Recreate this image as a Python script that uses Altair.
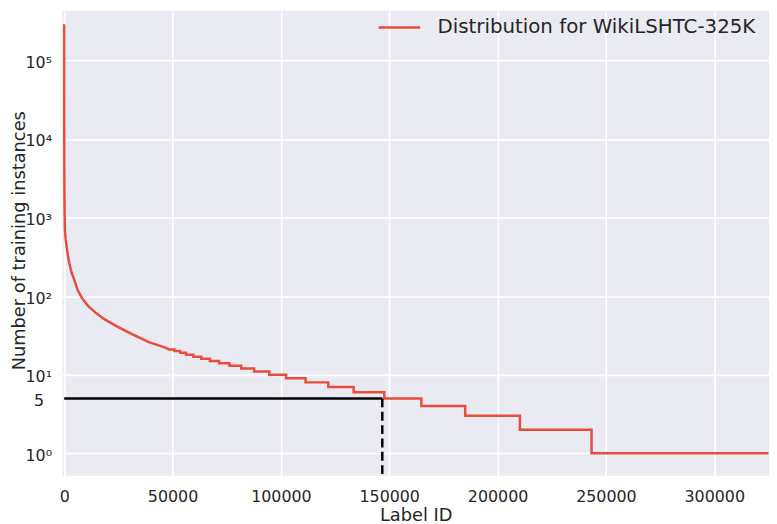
import altair as alt
import pandas as pd

SERIES = "Distribution for WikiLSHTC-325K"

# smooth head of the curve (rank, count)
head_rank = [0, 5, 20, 60, 150, 320, 700, 1140, 1700, 2370, 3400, 4660, 6200,
             8170, 11000, 14570, 18500, 24500, 31800, 39080, 46700, 48400]
head_count = [290000, 60000, 15000, 4000, 1500, 690, 520, 424, 330, 262, 200,
              161, 120, 95, 75, 61.4, 51, 41, 32.5, 26, 22.2, 21]

# step tail: level and the rank where it starts / ends
step_level = [21, 20, 19, 18, 17, 16, 15, 14, 13, 12, 11, 10, 9, 8, 7, 6, 5, 4, 3, 2, 1]
step_start = [48400, 50900, 53520, 56260, 59600, 63250, 67230, 71470, 76220, 81700,
              87640, 94630, 102390, 111390, 121890, 133580, 147740, 164820, 185050,
              210300, 243370]
step_end = step_start[1:] + [325056]

# threshold guide
thr_value = 5
thr_rank = 146800

x_ticks = [0, 50000, 100000, 150000, 200000, 250000, 300000]
y_ticks = [1, 5, 10, 100, 1000, 10000, 100000]
y_tick_labels = ["10\u2070", "5", "10\u00b9", "10\u00b2", "10\u00b3", "10\u2074", "10\u2075"]

X_DOM = [-820, 325260]
Y_DOM = [0.5177, 430100]

rows = []
for r, c in zip(head_rank, head_count):
    rows.append((r, c))
for lv, s, e in zip(step_level, step_start, step_end):
    rows.append((s, lv))
    rows.append((e, lv))
line_df = pd.DataFrame(rows, columns=["rank", "count"])
line_df["order"] = range(len(line_df))
line_df["series"] = SERIES

label_expr = " : ".join(
    f"datum.value == {v} ? '{t}'" for v, t in zip(y_ticks[:-1], y_tick_labels[:-1])
) + f" : '{y_tick_labels[-1]}'"

FONT = "DejaVu Sans"
TXT = "#262626"

x_enc = alt.X(
    "rank:Q",
    scale=alt.Scale(domain=X_DOM, nice=False, zero=False),
    axis=alt.Axis(
        title="Label ID", values=x_ticks, format="d", grid=True, gridColor="white",
        gridWidth=1.7, ticks=False, tickSize=0, domain=False, labelFontSize=16,
        labelPadding=12.5, labelColor=TXT, labelFont=FONT, titleFont=FONT,
        titleFontSize=18, titleFontWeight="normal", titleColor=TXT,
        titleBaseline="alphabetic", titleY=45,
    ),
)
y_enc = alt.Y(
    "count:Q",
    scale=alt.Scale(type="log", domain=Y_DOM, nice=False, zero=False),
    axis=alt.Axis(
        title="Number of training instances", values=y_ticks, labelExpr=label_expr,
        grid=True, gridColor="white", gridWidth=1.7,
        gridOpacity={"condition": {"test": "datum.value == 5", "value": 0}, "value": 1},
        ticks=False, tickSize=0, domain=False, labelFontSize=16,
        labelPadding={"condition": {"test": "datum.value == 5", "value": 19}, "value": 11},
        labelOffset=2, labelColor=TXT, labelFont=FONT, titleFont=FONT,
        titleFontSize=18, titleFontWeight="normal", titleColor=TXT,
        titleBaseline="alphabetic", titleX=-38, titleY=232,
    ),
)

line = alt.Chart(line_df).mark_line(strokeWidth=2.5, clip=True).encode(
    x=x_enc,
    y=y_enc,
    order="order:Q",
    color=alt.Color(
        "series:N",
        scale=alt.Scale(domain=[SERIES], range=["#e74c3c"]),
        legend=alt.Legend(
            title=None, orient="none", legendX=318, legendY=-5.5, symbolType="stroke",
            symbolSize=1764, symbolStrokeWidth=2.5, labelFontSize=20, labelFont=FONT,
            labelColor=TXT, labelOffset=16, labelLimit=0, padding=0,
        ),
    ),
)

thr_df = pd.DataFrame({"x0": [0], "x1": [thr_rank], "y": [thr_value], "ylow": [Y_DOM[0]]})
hline = alt.Chart(thr_df).mark_rule(color="black", strokeWidth=2.5).encode(
    x="x0:Q", x2="x1:Q", y="y:Q"
)
vline = alt.Chart(thr_df).mark_rule(color="black", strokeWidth=2.5, strokeDash=[9, 4.5]).encode(
    x="x1:Q", y="y:Q", y2="ylow:Q"
)

chart = alt.layer(line, hline, vline).properties(
    width=714, height=470,
    padding={"left": 55, "top": 0, "right": 0, "bottom": 46},
    autosize=alt.AutoSizeParams(type="none"),
    background="white",
).configure_view(fill="#EAEAF2", stroke=None)

chart.save("out.html", embed_options={"renderer": "svg", "actions": False})
